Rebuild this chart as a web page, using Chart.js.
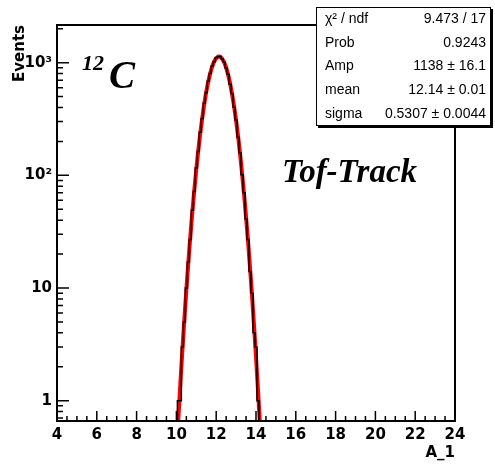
<!DOCTYPE html>
<html>
<head>
<meta charset="utf-8">
<script src="https://cdn.jsdelivr.net/npm/chart.js@4.4.1/dist/chart.umd.min.js"></script>
<style>
  body { margin: 0; background: #fff; }
  #c { display: block; }
</style>
</head>
<body>
<canvas id="c" width="495" height="464"></canvas>
<script>
// histogram of A_1: 0.1 wide bins, first bin starts at 10.05
const binStart = 10.05;
const binWidth = 0.1;
const counts = [1, 1, 3, 5, 10, 17, 27, 49, 72, 116,
                163, 241, 320, 437, 545, 685, 800, 935, 1020, 1105,
                1130, 1135, 1080, 1015, 898, 790, 645, 530, 402, 310,
                218, 158, 101, 70, 41, 27, 14, 9, 4, 3, 1];

// gaussian fit curve
const fitX = [10.0, 10.1, 10.2, 10.3, 10.4, 10.5, 10.6, 10.7, 10.8, 10.9,
              11.0, 11.1, 11.2, 11.3, 11.4, 11.5, 11.6, 11.7, 11.8, 11.9,
              12.0, 12.1, 12.2, 12.3, 12.4, 12.5, 12.6, 12.7, 12.8, 12.9,
              13.0, 13.1, 13.2, 13.3, 13.4, 13.5, 13.6, 13.7, 13.8, 13.9,
              14.0, 14.1, 14.2, 14.3];
const fitY = [0.335, 0.705, 1.43, 2.79, 5.27, 9.6, 16.9, 28.7, 47.0, 74.2,
              113, 167, 237, 325, 431, 550, 678, 807, 927, 1027,
              1099, 1135, 1131, 1087, 1009, 904, 782, 652, 525, 408,
              306, 222, 155, 104, 68.0, 42.7, 25.9, 15.1, 8.55, 4.66,
              2.45, 1.24, 0.609, 0.288];

const xTicks = [4, 6, 8, 10, 12, 14, 16, 18, 20, 22, 24];
const yTicks = [1, 10, 100, 1000];
const yTickLabels = ['1', '10', '10²', '10³'];

const statNames = ['χ² / ndf', 'Prob', 'Amp', 'mean', 'sigma'];
const statValues = ['9.473 / 17', '0.9243', '1138 ± 16.1', '12.14 ± 0.01', '0.5307 ± 0.0044'];

// build step outline for the histogram
const histPoints = [{ x: binStart, y: 0.1 }];
counts.forEach((c, i) => histPoints.push({ x: binStart + i * binWidth, y: c }));
const binEnd = binStart + counts.length * binWidth;
histPoints.push({ x: binEnd, y: counts[counts.length - 1] });
histPoints.push({ x: binEnd, y: 0.1 });

const fitPoints = fitX.map((x, i) => ({ x: x, y: fitY[i] }));

const axisFont = { family: 'DejaVu Sans', weight: 'bold', size: 15 };

// ROOT style frame: box, inward ticks, stats box and labels
const rootFrame = {
  id: 'rootFrame',
  afterDatasetsDraw(chart) {
    const { ctx, chartArea: a, scales: { x, y } } = chart;
    ctx.save();
    ctx.strokeStyle = '#000';
    ctx.lineWidth = 1.5;
    ctx.beginPath();
    for (let v = 4; v <= 24.001; v += 0.5) {
      const px = x.getPixelForValue(v);
      const len = Math.abs(v % 2) < 0.001 ? 10 : 5;
      ctx.moveTo(px, a.bottom);
      ctx.lineTo(px, a.bottom - len);
    }
    for (let e = -1; e <= 3; e++) {
      for (let k = 1; k < 10; k++) {
        const v = k * Math.pow(10, e);
        if (v < y.min || v > y.max) continue;
        const py = y.getPixelForValue(v);
        ctx.moveTo(a.left, py);
        ctx.lineTo(a.left + (k === 1 ? 12 : 6), py);
      }
    }
    ctx.stroke();
    ctx.lineWidth = 2;
    ctx.strokeRect(a.left, a.top, a.right - a.left, a.bottom - a.top);
    ctx.restore();
  },
  afterDraw(chart) {
    const ctx = chart.ctx;
    ctx.save();
    ctx.fillStyle = '#000';
    ctx.textBaseline = 'alphabetic';
    ctx.font = 'bold italic 22px "Liberation Serif"';
    ctx.fillText('12', 82, 70);
    ctx.font = 'bold italic 39px "Liberation Serif"';
    ctx.fillText('C', 109, 88);
    ctx.font = 'bold italic 33px "Liberation Serif"';
    ctx.fillText('Tof-Track', 282, 182);

    // stats box
    const bx = 316, by = 7, bw = 175, bh = 119;
    ctx.fillStyle = '#000';
    ctx.fillRect(bx + 2, by + 2, bw, bh);
    ctx.fillStyle = '#fff';
    ctx.fillRect(bx, by, bw, bh);
    ctx.strokeStyle = '#000';
    ctx.lineWidth = 1;
    ctx.strokeRect(bx + 0.5, by + 0.5, bw - 1, bh - 1);
    ctx.fillStyle = '#000';
    ctx.font = '14px "Liberation Sans"';
    ctx.textBaseline = 'middle';
    const rowH = bh / statNames.length;
    statNames.forEach((name, i) => {
      const ty = by + (i + 0.5) * rowH;
      ctx.textAlign = 'left';
      ctx.fillText(name, bx + 9, ty);
      ctx.textAlign = 'right';
      ctx.fillText(statValues[i], bx + bw - 5, ty);
    });
    ctx.restore();
  }
};

new Chart(document.getElementById('c'), {
  type: 'line',
  data: {
    datasets: [
      { data: histPoints, borderColor: '#000', borderWidth: 1.5, stepped: 'before', pointRadius: 0, fill: false },
      { data: fitPoints, borderColor: '#ff0000', borderWidth: 4, pointRadius: 0, fill: false }
    ]
  },
  options: {
    responsive: false,
    animation: false,
    layout: { padding: { top: 25, right: 40, left: 0, bottom: 0 } },
    plugins: { legend: { display: false }, tooltip: { enabled: false } },
    scales: {
      x: {
        type: 'linear',
        min: 4,
        max: 24,
        afterBuildTicks: s => { s.ticks = xTicks.map(v => ({ value: v })); },
        afterFit: s => { s.height = 43; },
        grid: { display: false, drawTicks: false },
        border: { display: false },
        ticks: { font: axisFont, color: '#000', padding: 5, maxRotation: 0 },
        title: { display: true, text: 'A_1', align: 'end', font: axisFont, color: '#000', padding: { top: 0, bottom: 2 } }
      },
      y: {
        type: 'logarithmic',
        min: 0.66,
        max: 2160,
        afterBuildTicks: s => { s.ticks = yTicks.map(v => ({ value: v })); },
        afterFit: s => { s.width = 57; },
        grid: { display: false, drawTicks: false },
        border: { display: false },
        ticks: {
          font: axisFont,
          color: '#000',
          padding: 5,
          callback: v => yTickLabels[yTicks.indexOf(v)]
        },
        title: { display: true, text: 'Events', align: 'end', font: axisFont, color: '#000', padding: { top: 11, bottom: 0 } }
      }
    }
  },
  plugins: [rootFrame]
});
</script>
</body>
</html>
